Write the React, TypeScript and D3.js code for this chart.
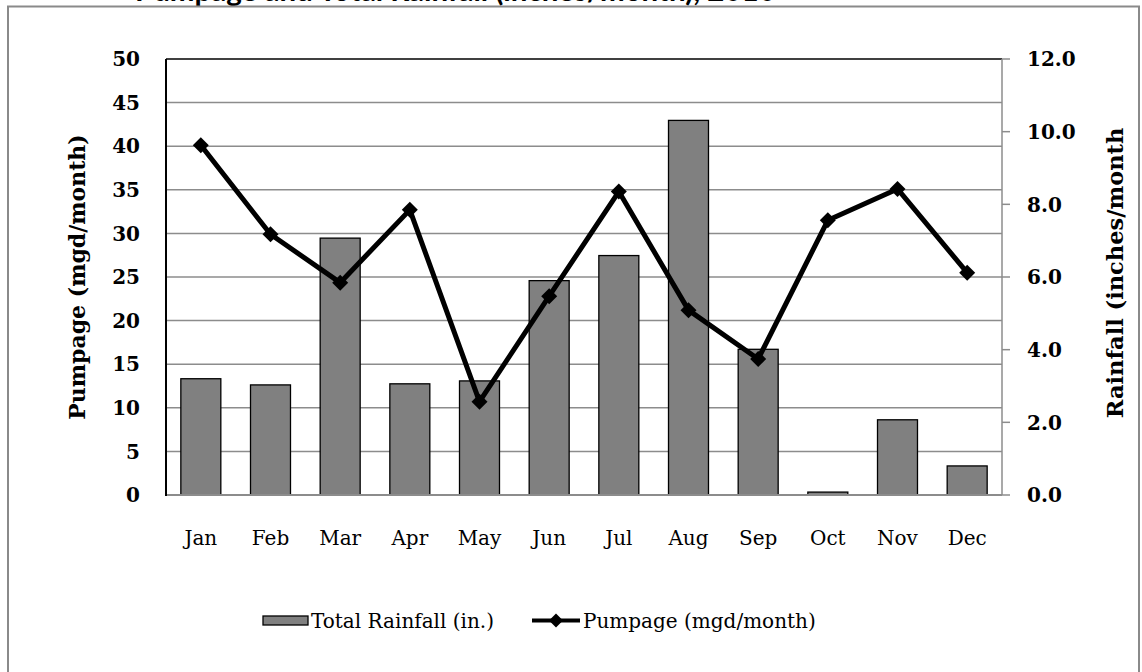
import React from "react";
import * as d3 from "d3";

const months = ["Jan", "Feb", "Mar", "Apr", "May", "Jun", "Jul", "Aug", "Sep", "Oct", "Nov", "Dec"];
const rainfall = [3.2, 3.03, 7.07, 3.06, 3.14, 5.9, 6.59, 10.31, 4.01, 0.08, 2.07, 0.8];
const pumpage = [40.1, 29.9, 24.35, 32.7, 10.7, 22.8, 34.8, 21.2, 15.6, 31.5, 35.1, 25.5];
const leftTicks = [0, 5, 10, 15, 20, 25, 30, 35, 40, 45, 50];
const rightTicks = [0, 2, 4, 6, 8, 10, 12];
const titleText = "Pumpage and Total Rainfall (inches/month), 2010";
const leftTitle = "Pumpage (mgd/month)";
const rightTitle = "Rainfall (inches/month";
const barLabel = "Total Rainfall (in.)";
const lineLabel = "Pumpage (mgd/month)";

const W = 1142, H = 672;
const plot = { left: 166, right: 1002, top: 59, bottom: 495 };
const serif = "'DejaVu Serif', serif";

export default function App() {
  const x = d3.scaleBand<string>().domain(months).range([plot.left, plot.right]).paddingInner(0.426).paddingOuter(0.213);
  const yL = d3.scaleLinear().domain([0, 50]).range([plot.bottom, plot.top]);
  const yR = d3.scaleLinear().domain([0, 12]).range([plot.bottom, plot.top]);
  const cx = (m: string) => (x(m) as number) + x.bandwidth() / 2;
  const line = d3.line<number>().x((_, i) => cx(months[i])).y((d) => yL(d));
  const diamond = (px: number, py: number, r: number) => `M${px},${py - r}L${px + r},${py}L${px},${py + r}L${px - r},${py}Z`;

  return (
    <svg width={W} height={H} style={{ position: "absolute", left: 0, top: 0, background: "#fff" }}>
      <rect x={0} y={0} width={W} height={H} fill="#fff" />
      <text x={135} y={0.5} fontFamily="Lato, sans-serif" fontWeight="bold" fontSize={29.5} fill="#000">{titleText}</text>
      <rect x={8} y={6.5} width={1131} height={700} fill="none" stroke="#8a8a8a" strokeWidth={2} />
      {/* gridlines */}
      {leftTicks.filter((t) => t !== 0 && t !== 50).map((t) => (
        <line key={t} x1={plot.left} x2={plot.right} y1={yL(t)} y2={yL(t)} stroke="#8c8c8c" strokeWidth={1.5} />
      ))}
      {/* bars */}
      {rainfall.map((v, i) => (
        <rect key={months[i]} x={x(months[i])} y={yR(v)} width={x.bandwidth()} height={plot.bottom - yR(v)} fill="#808080" stroke="#000" strokeWidth={1.3} />
      ))}
      {/* axes */}
      <line x1={plot.left} x2={plot.right} y1={plot.bottom} y2={plot.bottom} stroke="#8c8c8c" strokeWidth={2} />
      <line x1={plot.left} x2={plot.right} y1={plot.top} y2={plot.top} stroke="#000" strokeWidth={1.5} />
      <line x1={plot.right} x2={plot.right} y1={plot.top} y2={plot.bottom} stroke="#8c8c8c" strokeWidth={1.5} />
      <line x1={plot.left} x2={plot.left} y1={plot.top} y2={plot.bottom + 1} stroke="#000" strokeWidth={2} />
      {rightTicks.map((t) => (
        <line key={t} x1={plot.right} x2={plot.right + 8} y1={yR(t)} y2={yR(t)} stroke="#8c8c8c" strokeWidth={1.5} />
      ))}
      {/* line */}
      <path d={line(pumpage) || ""} fill="none" stroke="#000" strokeWidth={5} strokeLinejoin="round" />
      {pumpage.map((v, i) => (
        <path key={i} d={diamond(cx(months[i]), yL(v), 8)} fill="#000" />
      ))}
      {/* tick labels */}
      {leftTicks.map((t) => (
        <text key={t} x={140} y={yL(t)} dy="0.36em" textAnchor="end" fontFamily={serif} fontWeight="bold" fontSize={20}>{t}</text>
      ))}
      {rightTicks.map((t) => (
        <text key={t} x={1027} y={yR(t)} dy="0.36em" textAnchor="start" fontFamily={serif} fontWeight="bold" fontSize={20}>{t.toFixed(1)}</text>
      ))}
      {months.map((m) => (
        <text key={m} x={cx(m)} y={545} textAnchor="middle" fontFamily={serif} fontSize={20}>{m}</text>
      ))}
      <text transform={`translate(85,277) rotate(-90)`} textAnchor="middle" fontFamily={serif} fontWeight="bold" fontSize={22}>{leftTitle}</text>
      <text transform={`translate(1123,273) rotate(-90)`} textAnchor="middle" fontFamily={serif} fontWeight="bold" fontSize={22.5}>{rightTitle}</text>
      {/* legend */}
      <rect x={263} y={616} width={45} height={9} fill="#808080" stroke="#000" strokeWidth={1.3} />
      <text x={311} y={628} fontFamily={serif} fontSize={20}>{barLabel}</text>
      <line x1={532} x2={580} y1={620.5} y2={620.5} stroke="#000" strokeWidth={4} />
      <path d={diamond(556, 620.5, 7)} fill="#000" />
      <text x={583} y={628} fontFamily={serif} fontSize={20}>{lineLabel}</text>
    </svg>
  );
}
